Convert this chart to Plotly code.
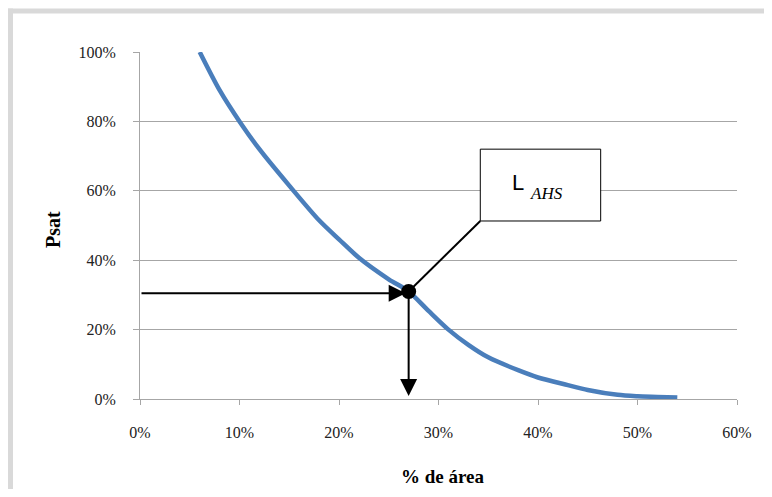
import plotly.graph_objects as go

# Data (percent values)
area_pct = [6, 8, 10, 12, 15, 18, 20, 22, 25, 27, 29, 31, 33, 35, 38, 40, 43, 45, 48, 50, 52, 54]
psat_pct = [100, 89, 80, 72, 61.5, 51.5, 46, 40.7, 34.5, 31, 25.4, 20, 15.6, 12, 8.3, 6.2, 4, 2.6, 1.2, 0.8, 0.6, 0.4]

x_ticks = [0, 10, 20, 30, 40, 50, 60]
x_tick_labels = ["0%", "10%", "20%", "30%", "40%", "50%", "60%"]
y_ticks = [0, 20, 40, 60, 80, 100]
y_tick_labels = ["0%", "20%", "40%", "60%", "80%", "100%"]

lahs_x = [27]
lahs_y = [31]
label_box = dict(x0=34.2, x1=46.3, y0=51.3, y1=72.0)

OFF = 8  # page body margin
W, H = 756, 481
# plot area in page pixels: x 140..737, y 52..399
L = 140 - OFF
T = 52 - OFF
R = W - (737 - OFF)
B = H - (399 - OFF)
pw, ph = W - L - R, H - T - B


def px_to_paper(px, py):
    """page pixel -> paper coords"""
    fx, fy = px - OFF, py - OFF
    return (fx - L) / pw, (H - B - fy) / ph


fig = go.Figure()
fig.add_trace(go.Scatter(
    x=area_pct, y=psat_pct, mode="lines",
    line=dict(color="#4a7ebb", width=4.5, shape="spline", smoothing=0.8),
    hoverinfo="skip", showlegend=False,
))
fig.add_trace(go.Scatter(
    x=lahs_x, y=lahs_y, mode="markers",
    marker=dict(color="black", size=15),
    hoverinfo="skip", showlegend=False,
))

grid = "#a6a6a6"
tick_font = dict(family="Liberation Serif", size=16, color="#222222")

fig.update_xaxes(
    range=[0, 60], tickvals=x_ticks, ticktext=x_tick_labels,
    showgrid=False, zeroline=False, showline=True, linecolor=grid, linewidth=1,
    ticks="outside", ticklen=5, tickcolor=grid, tickfont=tick_font,
    ticklabelstandoff=14, fixedrange=True,
)
fig.update_yaxes(
    range=[0, 100], tickvals=y_ticks, ticktext=y_tick_labels,
    showgrid=True, gridcolor=grid, gridwidth=1, zeroline=False,
    showline=True, linecolor=grid, linewidth=1,
    ticks="outside", ticklen=6, tickcolor=grid, tickfont=tick_font,
    ticklabelstandoff=14, fixedrange=True,
)

shapes = []
# outer chart border (left and top visible)
bx0, by0 = px_to_paper(10.5, 11)
bx1, _ = px_to_paper(800, 11)
_, by1 = px_to_paper(10.5, 520)
bxl, _ = px_to_paper(8, 11)
shapes.append(dict(type="line", xref="paper", yref="paper", x0=bx0, x1=bx0, y0=by0 + 0.007, y1=by1,
                   line=dict(color="#d9d9d9", width=5), layer="above"))
shapes.append(dict(type="line", xref="paper", yref="paper", x0=bxl, x1=bx1, y0=by0, y1=by0,
                   line=dict(color="#d9d9d9", width=5), layer="above"))
# connector from box to point
shapes.append(dict(type="line", xref="x", yref="y", x0=label_box["x0"], y0=label_box["y0"],
                   x1=lahs_x[0], y1=lahs_y[0], line=dict(color="black", width=2), layer="above"))
# label box
shapes.append(dict(type="rect", xref="x", yref="y", x0=label_box["x0"], x1=label_box["x1"],
                   y0=label_box["y0"], y1=label_box["y1"], line=dict(color="black", width=1),
                   fillcolor="white", layer="above"))

annotations = []
# horizontal arrow from y axis to point
annotations.append(dict(x=lahs_x[0] - 0.3, y=lahs_y[0] - 0.5, xref="x", yref="y",
                        ax=0, ay=lahs_y[0] - 0.5, axref="x", ayref="y", text="",
                        showarrow=True, arrowhead=2, arrowsize=1.7, arrowwidth=2, arrowcolor="black"))
# vertical arrow from point down to x axis
annotations.append(dict(x=lahs_x[0], y=0.9, xref="x", yref="y",
                        ax=lahs_x[0], ay=lahs_y[0], axref="x", ayref="y", text="",
                        showarrow=True, arrowhead=2, arrowsize=1.7, arrowwidth=2, arrowcolor="black"))
# label text
cx = (label_box["x0"] + label_box["x1"]) / 2
cy = (label_box["y0"] + label_box["y1"]) / 2
annotations.append(dict(x=cx, y=cy, xref="x", yref="y", showarrow=False, text="L",
                        font=dict(family="Liberation Sans", size=22, color="black"),
                        xshift=-22, yshift=3))
annotations.append(dict(x=cx, y=cy, xref="x", yref="y", showarrow=False, text="<i>AHS</i>",
                        font=dict(family="Liberation Serif", size=17, color="black"),
                        xshift=6, yshift=-8))
# axis titles
tx, ty = px_to_paper(443, 476)
annotations.append(dict(x=tx, y=ty, xref="paper", yref="paper", showarrow=False, text="<b>% de área</b>",
                        font=dict(family="Liberation Serif", size=19, color="black"),
                        xanchor="center", yanchor="middle"))
yx, yy = px_to_paper(53, 230)
annotations.append(dict(x=yx, y=yy, xref="paper", yref="paper", showarrow=False, text="<b>Psat</b>",
                        textangle=-90, font=dict(family="Liberation Serif", size=20, color="black"),
                        xanchor="center", yanchor="middle"))

fig.update_layout(
    width=W, height=H, margin=dict(l=L, r=R, t=T, b=B),
    paper_bgcolor="white", plot_bgcolor="white",
    shapes=shapes, annotations=annotations, showlegend=False,
)

fig.write_html("out.html", config={"displayModeBar": False})
